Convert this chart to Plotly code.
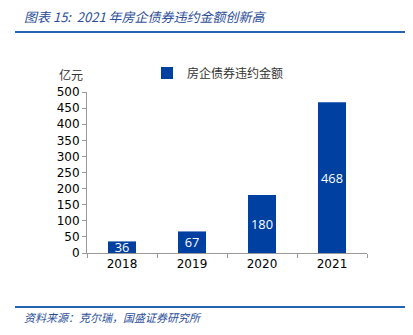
import plotly.graph_objects as go

years = ["2018", "2019", "2020", "2021"]
amounts = [36, 67, 180, 468]
series_name = "房企债券违约金额"
title_text = "图表 15:  2021 年房企债券违约金额创新高"
source_text = "资料来源：克尔瑞，国盛证券研究所"
unit_text = "亿元"

bar_color = "#0040A0"
line_color = "#2563B5"

fig = go.Figure()
fig.add_trace(go.Bar(
    x=years, y=amounts, name=series_name,
    marker=dict(color=bar_color, line=dict(width=0)),
    width=0.4,
    text=[str(v) for v in amounts],
    textposition="inside", insidetextanchor="middle", textangle=0,
    textfont=dict(color="white", size=14, family="Open Sans"),
))

L, R, T, B = 87, 46, 92, 82
W, H = 413, 335
pw, ph = W - L - R, H - T - B

def px(x):
    return (x - L) / pw

def py(y):
    return (H - B - y) / ph

fig.update_layout(
    width=W, height=H,
    margin=dict(l=L, r=R, t=T, b=B),
    plot_bgcolor="white", paper_bgcolor="white",
    font=dict(family="DejaVu Sans", size=12, color="#000000"),
    showlegend=True,
    legend=dict(orientation="h", x=px(147), y=py(73), xanchor="left", yanchor="middle",
                font=dict(family="Noto Sans CJK SC", size=12, color="#333333"),
                bgcolor="rgba(0,0,0,0)"),
    uniformtext=dict(minsize=12, mode="show"),
    bargap=0.6,
)
fig.update_yaxes(range=[0, 500], dtick=50, showgrid=False, zeroline=False,
                 showline=True, linecolor="#999999", linewidth=1,
                 ticks="outside", ticklen=4, tickcolor="#999999",
                 tickfont=dict(size=12, color="#000000"))
fig.update_xaxes(showgrid=False, showline=True, linecolor="#999999", linewidth=1,
                 ticks="outside", ticklen=4, tickcolor="#999999", tickson="boundaries",
                 tickfont=dict(size=12, color="#000000"))

fig.add_annotation(x=px(71), y=py(75), xref="paper", yref="paper", text=unit_text,
                   showarrow=False, xanchor="center", yanchor="middle",
                   font=dict(family="Noto Sans CJK SC", size=12, color="#333333"))
fig.add_annotation(x=px(22), y=py(17), xref="paper", yref="paper", text=title_text,
                   showarrow=False, xanchor="left", yanchor="middle",
                   font=dict(family="Noto Sans CJK SC", size=13, color="#2A4E9A", style="italic"))
fig.add_annotation(x=px(22), y=py(317), xref="paper", yref="paper", text=source_text,
                   showarrow=False, xanchor="left", yanchor="middle",
                   font=dict(family="Noto Sans CJK SC", size=11, color="#2A4E9A", style="italic"))
fig.add_shape(type="line", xref="paper", yref="paper", x0=px(15), x1=px(405), y0=py(32), y1=py(32),
              line=dict(color=line_color, width=2))
fig.add_shape(type="line", xref="paper", yref="paper", x0=px(15), x1=px(405), y0=py(307), y1=py(307),
              line=dict(color=line_color, width=2))

fig.write_html("out.html")
